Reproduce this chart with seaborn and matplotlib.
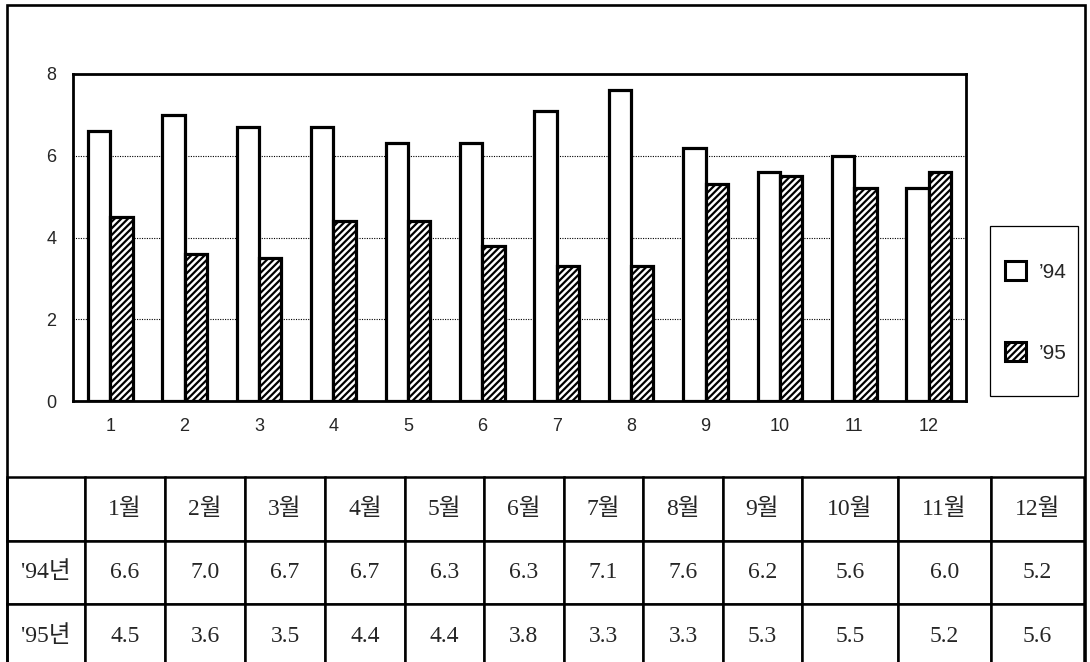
import numpy as np
import pandas as pd
import matplotlib
matplotlib.use("Agg")
import matplotlib.pyplot as plt
from matplotlib.patches import Patch, Rectangle
import seaborn as sns

# --- data ---
months = [str(m) for m in range(1, 13)]
month_labels = [f"{m}월" for m in range(1, 13)]
years = ["'94", "'95"]
row_labels = ["'94년", "'95년"]
vals_94 = [6.6, 7.0, 6.7, 6.7, 6.3, 6.3, 7.1, 7.6, 6.2, 5.6, 6.0, 5.2]
vals_95 = [4.5, 3.6, 3.5, 4.4, 4.4, 3.8, 3.3, 3.3, 5.3, 5.5, 5.2, 5.6]

df = pd.DataFrame({
    "month": months * 2,
    "value": vals_94 + vals_95,
    "year": [years[0]] * 12 + [years[1]] * 12,
})

sns.set_style("white")
plt.rcParams["font.family"] = ["Liberation Sans", "DejaVu Sans"]
plt.rcParams["hatch.linewidth"] = 1.6

W, H = 1090, 662


def box(x0, y0, x1, y1):
    # pixel box (top-left origin) -> figure fraction rect
    return [x0 / W, 1 - y1 / H, (x1 - x0) / W, (y1 - y0) / H]


fig = plt.figure(figsize=(W / 100, H / 100), dpi=100)

# outer frame around chart area
fig.add_artist(Rectangle((7 / W, -0.2), 1078 / W, 1 - 5 / H + 0.2,
                         transform=fig.transFigure, fill=False,
                         edgecolor="black", linewidth=1.9))

# --- bar chart ---
ax = fig.add_axes(box(73, 74, 966, 401))
sns.barplot(data=df, x="month", y="value", hue="year", order=months,
            palette=["white", "white"], saturation=1, width=0.6, gap=0,
            edgecolor="black", linewidth=2.3, legend=False, ax=ax)
for bar in ax.containers[1]:
    bar.set_hatch("/////")

ax.set_ylim(0, 8)
ax.set_yticks([0, 2, 4, 6, 8])
ax.set_xlim(-0.5, 11.5)
ax.set_xlabel("")
ax.set_ylabel("")
ax.yaxis.grid(True, linestyle=(0, (1, 1.2)), color="black", linewidth=0.8)
ax.set_axisbelow(True)
for sp in ax.spines.values():
    sp.set_visible(True)
    sp.set_linewidth(2.0)
    sp.set_color("black")
ax.tick_params(axis="y", length=0, pad=12, labelsize=13)
ax.tick_params(axis="x", length=0, pad=12, labelsize=13)

# legend
handles = [Patch(facecolor="white", edgecolor="black", linewidth=2.2),
           Patch(facecolor="white", edgecolor="black", linewidth=2.2, hatch="/////")]
fig.add_artist(Rectangle((990 / W, 1 - 396 / H), 88 / W, 170 / H,
                         transform=fig.transFigure, fill=False,
                         edgecolor="black", linewidth=0.9))
fig.legend(handles, ["’94", "’95"], loc="center", bbox_to_anchor=(1036 / W, 1 - 312 / H),
           frameon=False, fontsize=15, labelspacing=2.9, handlelength=1.0,
           handleheight=1.0, handletextpad=0.6)

# --- data table ---
col_edges = [7, 85, 165, 245, 325, 405, 484, 564, 643, 723, 802, 898, 991, 1084]
widths = np.diff(col_edges) / (col_edges[-1] - col_edges[0])
tax = fig.add_axes(box(7, 477, 1084, 668))
tax.axis("off")
cell_text = [[""] + month_labels,
             [row_labels[0]] + [f"{v:.1f}" for v in vals_94],
             [row_labels[1]] + [f"{v:.1f}" for v in vals_95]]
tbl = tax.table(cellText=cell_text, colWidths=list(widths), cellLoc="center",
                bbox=[0, 0, 1, 1])
tbl.auto_set_font_size(False)
for (r, c), cell in tbl.get_celld().items():
    cell.set_linewidth(1.8)
    cell.set_edgecolor("black")
    txt = cell.get_text()
    txt.set_fontsize(17)
    txt.set_fontweight("medium")
    txt.set_fontfamily(["Liberation Serif", "Noto Sans CJK KR"])

fig.savefig("out.png", dpi=100)
